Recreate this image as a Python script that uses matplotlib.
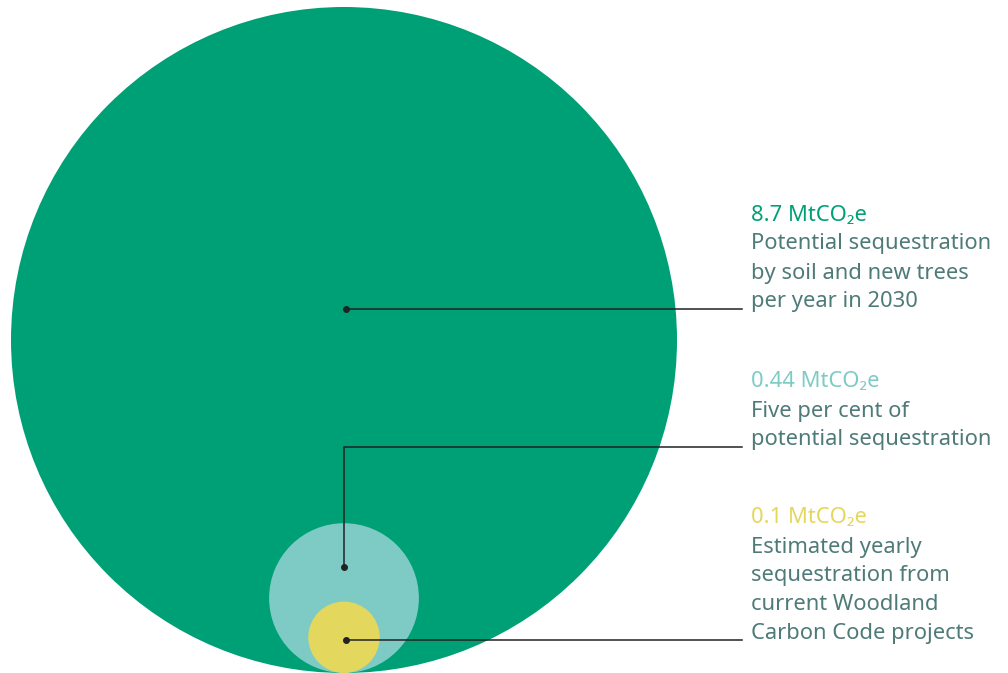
import matplotlib
matplotlib.use("Agg")
import matplotlib.pyplot as plt
from matplotlib.patches import Circle
import numpy as np

# values in MtCO2e
values = [8.7, 0.44, 0.1]
value_labels = ["8.7 MtCO₂e", "0.44 MtCO₂e", "0.1 MtCO₂e"]
descriptions = [
    ["Potential sequestration", "by soil and new trees", "per year in 2030"],
    ["Five per cent of", "potential sequestration"],
    ["Estimated yearly", "sequestration from", "current Woodland", "Carbon Code projects"],
]
circle_colors = ["#00A077", "#7ECBC6", "#E4D75E"]
label_colors = ["#00A077", "#7ECBC6", "#E4D75E"]
text_color = "#4E7B78"
line_color = "#222222"

# layout in pixels
W, H = 1008, 673
cx, base = 344, 673
max_r = 333
dots = [(346, 309), (344, 567), (346, 640)]
elbow_y = [309, 447, 640]
line_end = 742
text_x = 751
text_top = [215, 382, 518]
line_h = 29

plt.rcParams['font.family'] = ['Noto Sans', 'DejaVu Sans']

fig = plt.figure(figsize=(W / 100, H / 100), dpi=100)
ax = fig.add_axes([0, 0, 1, 1])
ax.set_xlim(0, W)
ax.set_ylim(H, 0)
ax.set_aspect('equal')
ax.axis('off')

radii = max_r * np.sqrt(np.array(values) / values[0])
for r, c in zip(radii, circle_colors):
    ax.add_patch(Circle((cx, base - r), r, color=c, lw=0))

for i in range(3):
    dx, dy = dots[i]
    ax.plot([dx, dx, line_end], [dy, elbow_y[i], elbow_y[i]], color=line_color, lw=1.1)
    ax.plot(dx, dy, 'o', color=line_color, markersize=4)

    ax.text(text_x, text_top[i], value_labels[i], color=label_colors[i],
            fontsize=15.8, va='center', ha='left')
    for j, line in enumerate(descriptions[i]):
        ax.text(text_x, text_top[i] + (j + 1) * line_h, line, color=text_color,
                fontsize=15.8, va='center', ha='left')

fig.savefig("out.png", dpi=100)
